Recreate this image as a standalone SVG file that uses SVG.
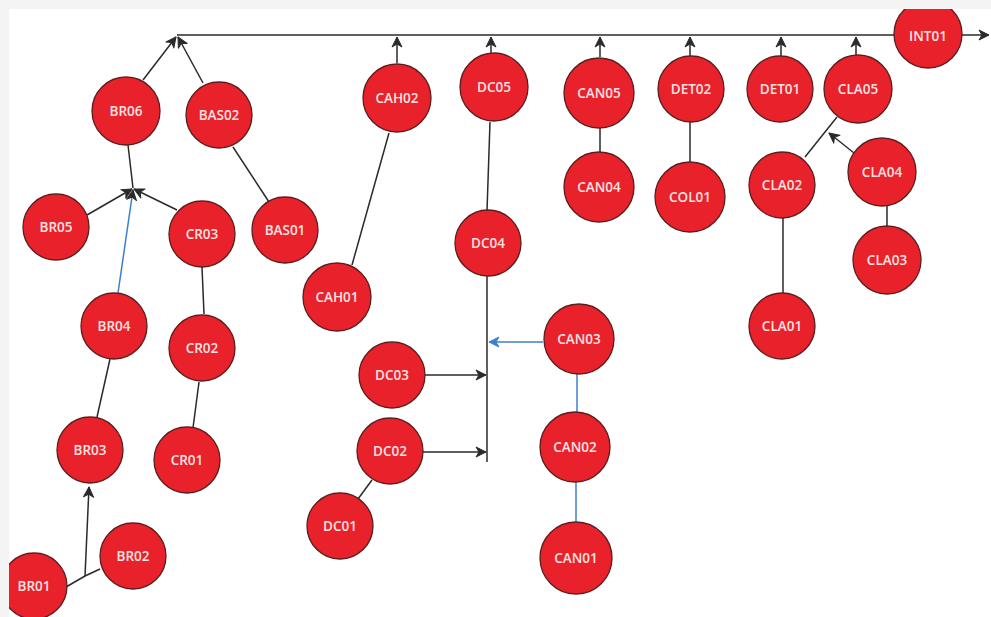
<svg xmlns="http://www.w3.org/2000/svg" width="991" height="617" viewBox="0 0 991 617">
<style>
.n circle{fill:#e8212b;stroke:#5a1e1e;stroke-width:1.3}
.n text{fill:#fbe3e3;font-family:"Open Sans","Liberation Sans",sans-serif;font-size:13.5px;font-weight:600;text-anchor:middle;dominant-baseline:central}
.c path{fill:none;stroke:#2a2a2a;stroke-width:1.5}
.c path.b{stroke:#3b7fd0}
.c path.a{marker-end:url(#ar)}
.c path.ab{marker-end:url(#arb)}
</style>
<defs>
<marker id="ar" markerUnits="userSpaceOnUse" markerWidth="14" markerHeight="14" refX="11" refY="6" orient="auto">
<path d="M1,1 L11,6 L1,11 L4,6 Z" fill="#2a2a2a" stroke="#2a2a2a" stroke-width="1" stroke-linejoin="round"/>
</marker>
<marker id="arb" markerUnits="userSpaceOnUse" markerWidth="14" markerHeight="14" refX="11" refY="6" orient="auto">
<path d="M1,1 L11,6 L1,11 L4,6 Z" fill="#3b7fd0" stroke="#3b7fd0" stroke-width="1" stroke-linejoin="round"/>
</marker>
<clipPath id="page"><rect x="9" y="9" width="982" height="608"/></clipPath>
</defs>
<rect width="991" height="617" fill="#f4f4f4"/>
<rect x="9" y="9" width="982" height="608" fill="#ffffff"/>
<g clip-path="url(#page)">
<g class="c" id="connectors">
<path class="a" d="M177,35 H989"/>
<path class="a" d="M143,80 L176,37"/>
<path class="a" d="M203,83 L178,37"/>
<path class="a" d="M397,63 V37"/>
<path class="a" d="M491,53 V37"/>
<path class="a" d="M600,57 V37"/>
<path class="a" d="M690,56 V37"/>
<path class="a" d="M781,56 V37"/>
<path class="a" d="M856,55 V37"/>
<path d="M128,145 L133,188"/>
<path class="a" d="M87,215 L132,189"/>
<path class="a" d="M177,210 L134,189"/>
<path class="b a" d="M118,293 L133,190"/>
<path d="M233,147 L269,202"/>
<path d="M202,267 L204,314"/>
<path d="M199,382 L193,428"/>
<path d="M110,359 L97,417"/>
<path d="M66,587 L85,576 L100,569"/>
<path class="a" d="M85,576 L89,487"/>
<path d="M389,133 L352,265"/>
<path d="M490,122 L487,211"/>
<path d="M487,276 V462"/>
<path class="b ab" d="M543,342 H489"/>
<path class="a" d="M425,375 H486"/>
<path class="a" d="M423,452 H486"/>
<path d="M372,480 L358,499"/>
<path class="b" d="M577,373 V412"/>
<path class="b" d="M576,482 V523"/>
<path d="M600,128 V152"/>
<path d="M690,122 V162"/>
<path d="M837,117 L805,157"/>
<path class="a" d="M854,153 L829,133"/>
<path d="M783,218 V293"/>
<path d="M887,205 V227"/>
</g>
<g class="n" id="INT01"><circle cx="928" cy="34" r="34"/><text x="928" y="36">INT01</text></g>
<g class="n" id="BR06"><circle cx="126" cy="111" r="34"/><text x="126" y="111">BR06</text></g>
<g class="n" id="BAS02"><circle cx="219" cy="115" r="33"/><text x="219" y="115">BAS02</text></g>
<g class="n" id="BR05"><circle cx="56" cy="227" r="33"/><text x="56" y="227">BR05</text></g>
<g class="n" id="CR03"><circle cx="202" cy="234" r="33"/><text x="202" y="234">CR03</text></g>
<g class="n" id="BAS01"><circle cx="285" cy="230" r="33"/><text x="285" y="230">BAS01</text></g>
<g class="n" id="BR04"><circle cx="114" cy="326" r="33"/><text x="114" y="326">BR04</text></g>
<g class="n" id="CR02"><circle cx="202" cy="348" r="33"/><text x="202" y="348">CR02</text></g>
<g class="n" id="BR03"><circle cx="90" cy="450" r="33"/><text x="90" y="450">BR03</text></g>
<g class="n" id="CR01"><circle cx="187" cy="460" r="33"/><text x="187" y="460">CR01</text></g>
<g class="n" id="BR02"><circle cx="133" cy="556" r="33"/><text x="133" y="556">BR02</text></g>
<g class="n" id="BR01"><circle cx="34" cy="586" r="33"/><text x="34" y="586">BR01</text></g>
<g class="n" id="CAH02"><circle cx="397" cy="98" r="34"/><text x="397" y="98">CAH02</text></g>
<g class="n" id="CAH01"><circle cx="337" cy="297" r="34"/><text x="337" y="297">CAH01</text></g>
<g class="n" id="DC05"><circle cx="494" cy="87" r="34"/><text x="494" y="87">DC05</text></g>
<g class="n" id="DC04"><circle cx="488" cy="243" r="33"/><text x="488" y="243">DC04</text></g>
<g class="n" id="CAN05"><circle cx="599" cy="93" r="35"/><text x="599" y="93">CAN05</text></g>
<g class="n" id="CAN04"><circle cx="599" cy="187" r="35"/><text x="599" y="187">CAN04</text></g>
<g class="n" id="CAN03"><circle cx="579" cy="339" r="35"/><text x="579" y="339">CAN03</text></g>
<g class="n" id="DC03"><circle cx="392" cy="375" r="33"/><text x="392" y="375">DC03</text></g>
<g class="n" id="DC02"><circle cx="390" cy="451" r="33"/><text x="390" y="451">DC02</text></g>
<g class="n" id="DC01"><circle cx="340" cy="526" r="33"/><text x="340" y="526">DC01</text></g>
<g class="n" id="CAN02"><circle cx="575" cy="447" r="35"/><text x="575" y="447">CAN02</text></g>
<g class="n" id="CAN01"><circle cx="576" cy="558" r="36"/><text x="576" y="558">CAN01</text></g>
<g class="n" id="DET02"><circle cx="691" cy="89" r="33"/><text x="691" y="89">DET02</text></g>
<g class="n" id="COL01"><circle cx="690" cy="197" r="35"/><text x="690" y="197">COL01</text></g>
<g class="n" id="DET01"><circle cx="780" cy="89" r="33"/><text x="780" y="89">DET01</text></g>
<g class="n" id="CLA05"><circle cx="858" cy="89" r="34"/><text x="858" y="89">CLA05</text></g>
<g class="n" id="CLA02"><circle cx="782" cy="185" r="33"/><text x="782" y="185">CLA02</text></g>
<g class="n" id="CLA04"><circle cx="882" cy="172" r="34"/><text x="882" y="172">CLA04</text></g>
<g class="n" id="CLA03"><circle cx="887" cy="260" r="34"/><text x="887" y="260">CLA03</text></g>
<g class="n" id="CLA01"><circle cx="782" cy="326" r="33"/><text x="782" y="326">CLA01</text></g>
</g>
</svg>
